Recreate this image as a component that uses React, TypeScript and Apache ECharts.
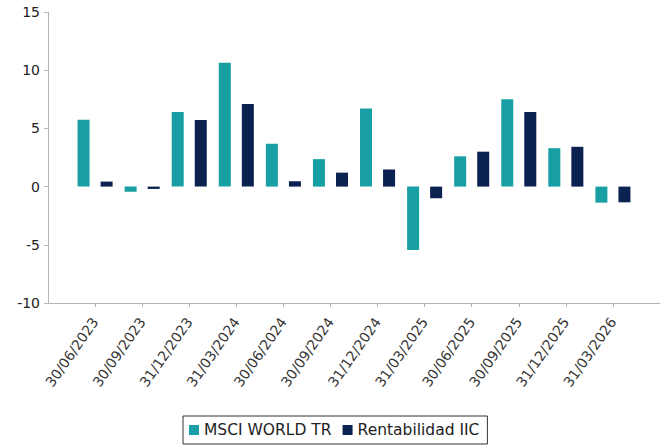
import React, { useEffect, useRef } from "react";
import * as echarts from "echarts";

const categories = [
  "30/06/2023", "30/09/2023", "31/12/2023", "31/03/2024",
  "30/06/2024", "30/09/2024", "31/12/2024", "31/03/2025",
  "30/06/2025", "30/09/2025", "31/12/2025", "31/03/2026",
];
const msciWorld = [5.75, -0.45, 6.4, 10.65, 3.68, 2.36, 6.7, -5.45, 2.6, 7.5, 3.3, -1.38];
const rentabilidad = [0.43, -0.2, 5.72, 7.1, 0.46, 1.2, 1.47, -1.0, 3.0, 6.4, 3.42, -1.35];
const seriesNames = ["MSCI WORLD TR", "Rentabilidad IIC"];
const yTicks = { min: -10, max: 15, interval: 5 };

export default function App() {
  const ref = useRef<HTMLDivElement>(null);
  useEffect(() => {
    if (!ref.current) return;
    const chart = echarts.init(ref.current, undefined, { renderer: "svg" });
    const cats = ["", ...categories, ""];
    const pad = (arr: number[]) => ["-", ...arr, "-"];
    const font = "DejaVu Sans";
    chart.setOption({
      animation: false,
      textStyle: { fontFamily: font },
      grid: { left: 48, right: 6, top: 12, bottom: 145, containLabel: false },
      legend: {
        data: seriesNames,
        left: 183,
        top: 416,
        padding: [6, 8, 6, 6],
        borderColor: "#333",
        borderWidth: 1,
        icon: "rect",
        itemWidth: 10,
        itemHeight: 10,
        itemGap: 11,
        textStyle: { fontSize: 15.5, color: "#222", fontFamily: font },
      },
      xAxis: {
        type: "category",
        data: cats,
        boundaryGap: false,
        axisLine: { onZero: false, lineStyle: { color: "#b5b5b5" } },
        axisTick: {
          show: true,
          length: 4,
          interval: (i: number) => i > 0 && i < cats.length - 1,
          lineStyle: { color: "#b5b5b5" },
        },
        axisLabel: {
          interval: 0,
          rotate: 55,
          margin: 16,
          padding: [6, 0, -6, 0],
          fontSize: 14,
          color: "#333",
          fontFamily: font,
        },
        splitLine: { show: false },
      },
      yAxis: {
        type: "value",
        min: yTicks.min,
        max: yTicks.max,
        interval: yTicks.interval,
        axisLine: { show: true, lineStyle: { color: "#b5b5b5" } },
        axisTick: { show: true, length: 4, lineStyle: { color: "#b5b5b5" } },
        axisLabel: { fontSize: 14, color: "#222", margin: 8, fontFamily: font },
        splitLine: { show: false },
      },
      series: [
        {
          name: seriesNames[0],
          type: "bar",
          data: pad(msciWorld),
          barWidth: 12,
          barGap: "92%",
          itemStyle: { color: "#189FA3" },
        },
        {
          name: seriesNames[1],
          type: "bar",
          data: pad(rentabilidad),
          barWidth: 12,
          itemStyle: { color: "#0B2150" },
        },
      ],
    });
    return () => chart.dispose();
  }, []);
  return (
    <div
      ref={ref}
      style={{ position: "fixed", left: 0, top: 0, width: 666, height: 448, background: "#fff" }}
    />
  );
}
